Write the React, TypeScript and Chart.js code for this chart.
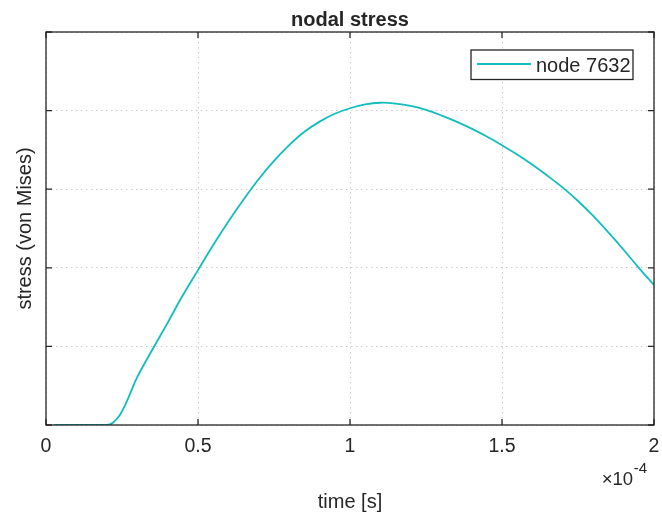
import React, { useEffect, useRef } from "react";
import { Chart, registerables } from "chart.js";

Chart.register(...registerables);

// ---- data (time in units of 1e-4 s, stress in arbitrary units) ----
const TIME = [
  0.025, 0.05, 0.1, 0.15, 0.2, 0.22, 0.24, 0.26, 0.28, 0.3, 0.35, 0.4, 0.45, 0.5,
  0.55, 0.6, 0.65, 0.7, 0.75, 0.8, 0.85, 0.9, 0.95, 1.0, 1.05, 1.1, 1.15, 1.2,
  1.25, 1.3, 1.35, 1.4, 1.45, 1.5, 1.55, 1.6, 1.65, 1.7, 1.75, 1.8, 1.85, 1.9,
  1.95, 2.0,
];
const STRESS = [
  0, 0, 0, 0, 0, 0.03, 0.11, 0.25, 0.43, 0.61, 0.96, 1.3, 1.65, 1.97,
  2.29, 2.59, 2.87, 3.13, 3.36, 3.56, 3.73, 3.86, 3.96, 4.03, 4.08, 4.1, 4.09, 4.06,
  4.01, 3.94, 3.86, 3.77, 3.67, 3.56, 3.44, 3.31, 3.17, 3.02, 2.85, 2.66, 2.45, 2.23,
  2.0, 1.78,
];
const SERIES_LABEL = "node 7632";
const X_MIN = 0;
const X_MAX = 2;
const X_STEP = 0.5;
const Y_MIN = 0;
const Y_MAX = 5;
const Y_STEP = 1;
const TITLE = "nodal stress";
const X_TITLE = "time [s]";
const Y_TITLE = "stress (von Mises)";
const EXP_BASE = "\u00d710";
const EXP_POWER = "-4";

const FONT = "'Liberation Sans', Arial, Helvetica, sans-serif";
const AXIS_COLOR = "#262626";
const LINE_COLOR = "#12BDBD";
const GRID_COLOR = "#cccccc";

const decorPlugin = {
  id: "matlabDecor",
  afterDraw(chart: any) {
    const { ctx, chartArea } = chart;
    const { left, right, top, bottom } = chartArea;
    const xs = chart.scales.x;
    const ys = chart.scales.y;
    ctx.save();
    // box
    ctx.strokeStyle = AXIS_COLOR;
    ctx.lineWidth = 1.3;
    ctx.setLineDash([]);
    ctx.strokeRect(left, top, right - left, bottom - top);
    // inward ticks
    const TL = 6;
    ctx.beginPath();
    xs.ticks.forEach((t: any) => {
      const px = xs.getPixelForValue(t.value);
      ctx.moveTo(px, bottom);
      ctx.lineTo(px, bottom - TL);
      ctx.moveTo(px, top);
      ctx.lineTo(px, top + TL);
    });
    ys.ticks.forEach((t: any) => {
      const py = ys.getPixelForValue(t.value);
      ctx.moveTo(left, py);
      ctx.lineTo(left + TL, py);
      ctx.moveTo(right, py);
      ctx.lineTo(right - TL, py);
    });
    ctx.stroke();

    ctx.fillStyle = AXIS_COLOR;
    // title
    ctx.font = `bold 20px ${FONT}`;
    ctx.textAlign = "center";
    ctx.textBaseline = "alphabetic";
    ctx.fillText(TITLE, (left + right) / 2, 26);
    // x title
    ctx.font = `20px ${FONT}`;
    ctx.fillText(X_TITLE, (left + right) / 2, 507.5);
    // y title
    ctx.save();
    ctx.translate(31, (top + bottom) / 2);
    ctx.rotate(-Math.PI / 2);
    ctx.fillText(Y_TITLE, 0, 0);
    ctx.restore();
    // exponent
    const expRight = right - 7;
    ctx.textAlign = "right";
    ctx.font = `15px ${FONT}`;
    const supW = ctx.measureText(EXP_POWER).width;
    ctx.fillText(EXP_POWER, expRight, 473);
    ctx.font = `18.5px ${FONT}`;
    ctx.fillText(EXP_BASE, expRight - supW - 0.5, 484.5);

    // legend
    const ds = chart.data.datasets[0];
    const bx = 471, by = 50, bw = 162, bh = 29.5;
    ctx.fillStyle = "#ffffff";
    ctx.fillRect(bx, by, bw, bh);
    ctx.strokeStyle = AXIS_COLOR;
    ctx.lineWidth = 1.3;
    ctx.strokeRect(bx, by, bw, bh);
    ctx.strokeStyle = ds.borderColor;
    ctx.lineWidth = ds.borderWidth;
    ctx.beginPath();
    ctx.moveTo(bx + 6, by + 14);
    ctx.lineTo(bx + 60, by + 14);
    ctx.stroke();
    ctx.fillStyle = AXIS_COLOR;
    ctx.font = `20px ${FONT}`;
    ctx.textAlign = "left";
    ctx.fillText(ds.label, bx + 65, by + 21.7);
    ctx.restore();
  },
};

export default function App() {
  const ref = useRef<HTMLCanvasElement | null>(null);
  useEffect(() => {
    if (!ref.current) return;
    const points = TIME.map((t, i) => ({ x: t, y: STRESS[i] }));
    const chart = new Chart(ref.current, {
      type: "line",
      data: {
        datasets: [
          {
            label: SERIES_LABEL,
            data: points,
            borderColor: LINE_COLOR,
            backgroundColor: LINE_COLOR,
            borderWidth: 1.8,
            pointRadius: 0,
            tension: 0.35,
            fill: false,
          },
        ],
      },
      options: {
        animation: false,
        responsive: false,
        devicePixelRatio: 1,
        layout: { padding: { left: 46, right: 8, top: 32, bottom: 0 } },
        plugins: {
          legend: { display: false },
          title: { display: false },
          tooltip: { enabled: false },
        },
        scales: {
          x: {
            type: "linear",
            min: X_MIN,
            max: X_MAX,
            ticks: {
              stepSize: X_STEP,
              color: AXIS_COLOR,
              font: { family: FONT, size: 19.5 },
              padding: 10,
              maxRotation: 0,
              autoSkip: false,
              callback: (v: any) => String(Number(v)),
            },
            grid: { color: GRID_COLOR, drawTicks: false, lineWidth: 1 },
            border: { display: false, dash: [1.5, 3.5] },
            afterFit: (s: any) => {
              s.height = 89;
              s.paddingLeft = 0;
              s.paddingRight = 0;
            },
          },
          y: {
            type: "linear",
            min: Y_MIN,
            max: Y_MAX,
            ticks: { stepSize: Y_STEP, display: false },
            grid: { color: GRID_COLOR, drawTicks: false, lineWidth: 1 },
            border: { display: false, dash: [1.5, 3.5] },
            afterFit: (s: any) => {
              s.width = 0;
              s.paddingTop = 0;
              s.paddingBottom = 0;
            },
          },
        },
      },
      plugins: [decorPlugin],
    });
    return () => chart.destroy();
  }, []);
  return (
    <div style={{ position: "fixed", left: 0, top: 0, width: 662, height: 514, background: "#fff" }}>
      <canvas ref={ref} width={662} height={514} style={{ width: 662, height: 514 }} />
    </div>
  );
}
